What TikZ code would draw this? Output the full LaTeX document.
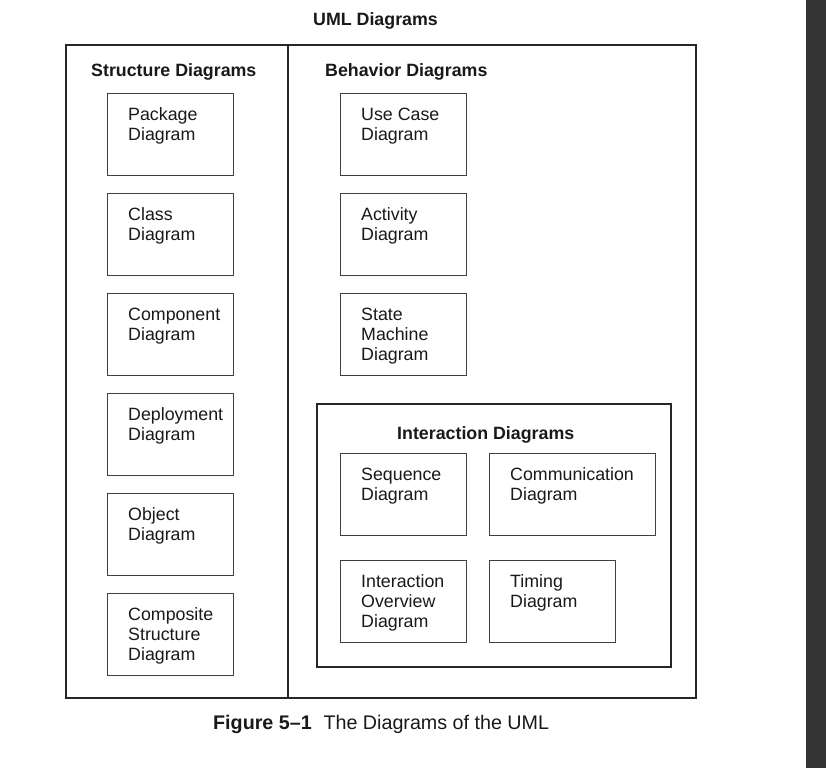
\documentclass[tikz,border=0pt]{standalone}
\usepackage{fontspec}
\setmainfont{Liberation Sans}
\usetikzlibrary{positioning}

\tikzset{
  diag/.style={draw=black!75, line width=1pt, anchor=north west, minimum width=126pt, minimum height=82pt, inner sep=0pt},
  lbl/.style={anchor=north west, align=left, inner sep=0pt, font=\fontsize{17.8}{20}\selectfont, text=black!90, execute at begin node=\strut},
  hdr/.style={anchor=base west, inner sep=0pt, font=\fontsize{17.8}{20}\selectfont\bfseries, text=black!90},
  frame/.style={draw=black!85, line width=2pt}
}

\begin{document}
\begin{tikzpicture}[x=1pt,y=-1pt]
\useasboundingbox (0,0) rectangle (826,768);
\fill[white] (0,0) rectangle (826,768);
\fill[black!80] (806,0) rectangle (826,768);

\node[hdr, anchor=base] (title) at (375.5,26) {UML Diagrams};

\draw[frame] (66,45) rectangle (696,698);
\draw[frame] (288,45) -- (288,698);

\node[hdr] (strhdr) at (91,76) {Structure Diagrams};
\node[hdr] (behhdr) at (325,76) {Behavior Diagrams};

\node[diag] (pkg) at (107,93) {};
\node[diag] (cls) at (107,193) {};
\node[diag] (cmp) at (107,293) {};
\node[diag] (dep) at (107,393) {};
\node[diag] (obj) at (107,493) {};
\node[diag] (cst) at (107,593) {};

\node[lbl] (pkgtxt) at ([shift={(21pt,-14.5pt)}]pkg.north west) {Package\\Diagram};
\node[lbl] (clstxt) at ([shift={(21pt,-14.5pt)}]cls.north west) {Class\\Diagram};
\node[lbl] (cmptxt) at ([shift={(21pt,-14.5pt)}]cmp.north west) {Component\\Diagram};
\node[lbl] (deptxt) at ([shift={(21pt,-14.5pt)}]dep.north west) {Deployment\\Diagram};
\node[lbl] (objtxt) at ([shift={(21pt,-14.5pt)}]obj.north west) {Object\\Diagram};
\node[lbl] (csttxt) at ([shift={(21pt,-14.5pt)}]cst.north west) {Composite\\Structure\\Diagram};

\node[diag] (use) at (340,93) {};
\node[diag] (act) at (340,193) {};
\node[diag] (stm) at (340,293) {};

\node[lbl] (usetxt) at ([shift={(21pt,-14.5pt)}]use.north west) {Use Case\\Diagram};
\node[lbl] (acttxt) at ([shift={(21pt,-14.5pt)}]act.north west) {Activity\\Diagram};
\node[lbl] (stmtxt) at ([shift={(21pt,-14.5pt)}]stm.north west) {State\\Machine\\Diagram};

\draw[frame] (317,403.5) rectangle (670.5,666.5);
\node[hdr] (inthdr) at (397,439) {Interaction Diagrams};

\node[diag] (seq) at (340,453) {};
\node[diag, minimum width=166pt] (com) at (489,453) {};
\node[diag] (ovr) at (340,560) {};
\node[diag] (tim) at (489,560) {};

\node[lbl] (seqtxt) at ([shift={(21pt,-14.5pt)}]seq.north west) {Sequence\\Diagram};
\node[lbl] (comtxt) at ([shift={(21pt,-14.5pt)}]com.north west) {Communication\\Diagram};
\node[lbl] (ovrtxt) at ([shift={(21pt,-14.5pt)}]ovr.north west) {Interaction\\Overview\\Diagram};
\node[lbl] (timtxt) at ([shift={(21pt,-14.5pt)}]tim.north west) {Timing\\Diagram};

\node[anchor=base west, inner sep=0pt, font=\fontsize{19.7}{22}\selectfont, text=black!90] (caption) at (213,729) {\textbf{Figure 5--1}\hspace{0.6em}The Diagrams of the UML};
\end{tikzpicture}
\end{document}
